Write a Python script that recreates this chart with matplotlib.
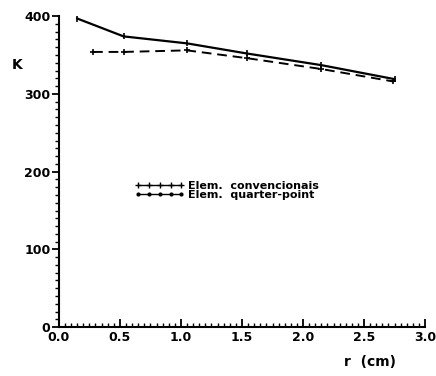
import matplotlib.pyplot as plt
from matplotlib.lines import Line2D
from matplotlib.ticker import MultipleLocator

# Dados
r_conv = [0.28, 0.53, 1.05, 1.54, 2.15, 2.74]
k_conv = [354, 354, 356, 346, 332, 316]

r_qp = [0.15, 0.53, 1.05, 1.54, 2.15, 2.75]
k_qp = [397, 374, 365, 352, 337, 319]

labels = ["Elem.  convencionais", "Elem.  quarter-point"]

fig = plt.figure(figsize=(4.36, 3.76), dpi=100)
ax = fig.add_axes([0.135, 0.13, 0.84, 0.827])

ax.plot(r_conv, k_conv, color="black", lw=1.4, ls=(0, (5, 3)),
        marker="+", ms=5, mew=1.2)
ax.plot(r_qp, k_qp, color="black", lw=1.6, marker="|", ms=4, mew=1.2)

ax.set_xlim(0, 3.0)
ax.set_ylim(0, 400)
ax.xaxis.set_major_locator(MultipleLocator(0.5))
ax.xaxis.set_minor_locator(MultipleLocator(0.05))
ax.yaxis.set_major_locator(MultipleLocator(100))
ax.yaxis.set_minor_locator(MultipleLocator(10))

for s in ["top", "right"]:
    ax.spines[s].set_visible(False)
for s in ["left", "bottom"]:
    ax.spines[s].set_linewidth(1.5)

ax.tick_params(axis="x", which="major", direction="in", length=6, width=1.3,
               labelsize=9, pad=3)
ax.tick_params(axis="x", which="minor", direction="in", length=3, width=1)
ax.tick_params(axis="y", which="major", direction="out", length=5, width=1.3,
               labelsize=9, pad=1)
ax.tick_params(axis="y", which="minor", direction="out", length=3, width=1)
for lab in ax.get_xticklabels() + ax.get_yticklabels():
    lab.set_fontweight("bold")

ax.set_xlabel("r  (cm)", fontsize=10, fontweight="bold")
ax.xaxis.set_label_coords(0.85, -0.09)
ax.set_ylabel("K", fontsize=10, fontweight="bold", rotation=0)
ax.yaxis.set_label_coords(-0.115, 0.82)

handles = [
    Line2D([], [], color="black", lw=1, marker="+", ms=5, mew=1),
    Line2D([], [], color="black", lw=1, marker=".", ms=4),
]
leg = ax.legend(handles, labels, loc="center left", bbox_to_anchor=(0.18, 0.44),
                frameon=False, numpoints=5, handlelength=4.5, handletextpad=0.3,
                labelspacing=-0.1, prop={"size": 8, "weight": "bold"})

fig.savefig("out.png", dpi=100)
